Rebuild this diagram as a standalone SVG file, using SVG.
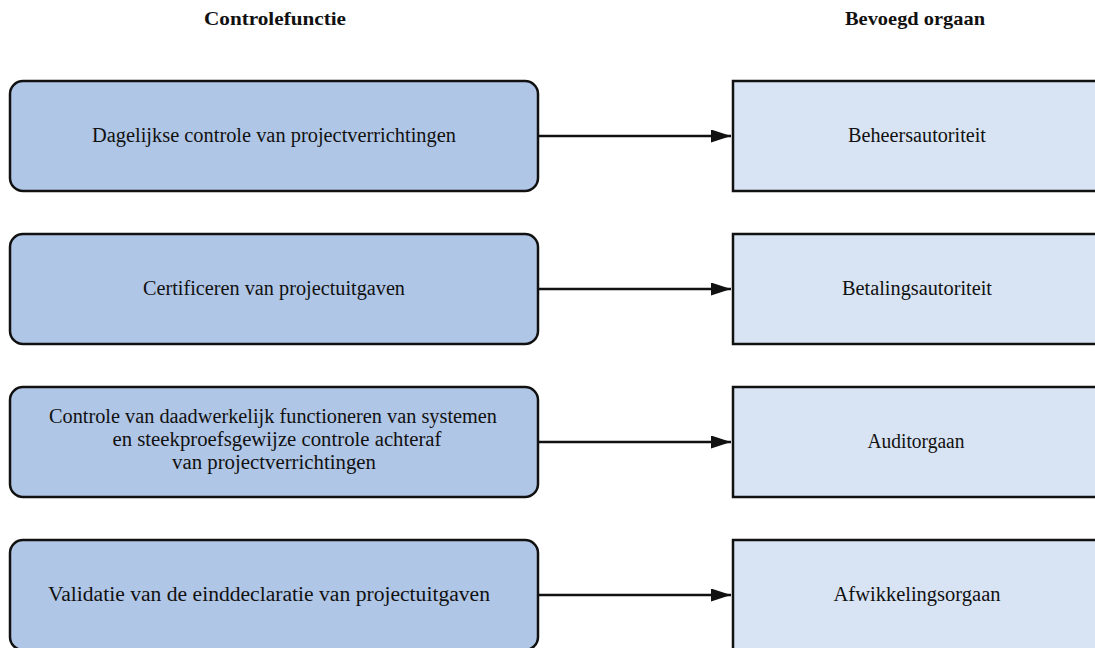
<svg xmlns="http://www.w3.org/2000/svg" width="1095" height="648" viewBox="0 0 1095 648">
<style>
.hdr{font-family:"Liberation Serif",serif;font-weight:bold;font-size:19px;fill:#111;text-anchor:middle}
.t{font-family:"Liberation Serif",serif;font-size:20px;fill:#111;text-anchor:middle}
.l{fill:#B0C6E6;stroke:#111;stroke-width:2.5}
.r{fill:#D8E4F3;stroke:#111;stroke-width:2.5}
.c{stroke:#111;stroke-width:2.5;fill:none}
</style>
<defs>
<marker id="ah" markerWidth="20" markerHeight="13" refX="20" refY="6.5" orient="auto" markerUnits="userSpaceOnUse" viewBox="0 0 20 13">
<path d="M0,0 L20,6.5 L0,13 Z" fill="#111"/>
</marker>
</defs>
<rect width="1095" height="648" fill="#fff"/>
<text class="hdr" x="275" y="25" textLength="142" lengthAdjust="spacingAndGlyphs">Controlefunctie</text>
<text class="hdr" x="915" y="25" textLength="140" lengthAdjust="spacingAndGlyphs">Bevoegd orgaan</text>
<g id="left1"><rect class="l" x="10" y="81" width="528" height="110" rx="13"/><text class="t" x="274" y="142" textLength="364" lengthAdjust="spacingAndGlyphs">Dagelijkse controle van projectverrichtingen</text></g>
<g id="left2"><rect class="l" x="10" y="234" width="528" height="110" rx="13"/><text class="t" x="274" y="295" textLength="262" lengthAdjust="spacingAndGlyphs">Certificeren van projectuitgaven</text></g>
<g id="left3"><rect class="l" x="10" y="387" width="528" height="110" rx="13"/><text class="t" x="273" y="423" textLength="448" lengthAdjust="spacingAndGlyphs">Controle van daadwerkelijk functioneren van systemen</text><text class="t" x="277" y="446" textLength="329" lengthAdjust="spacingAndGlyphs">en steekproefsgewijze controle achteraf</text><text class="t" x="274" y="469" textLength="204" lengthAdjust="spacingAndGlyphs">van projectverrichtingen</text></g>
<g id="left4"><rect class="l" x="10" y="540" width="528" height="110" rx="13"/><text class="t" x="269" y="601" textLength="442" lengthAdjust="spacingAndGlyphs">Validatie van de einddeclaratie van projectuitgaven</text></g>
<g id="right1"><rect class="r" x="733" y="81" width="366" height="110"/><text class="t" x="917" y="142" textLength="138" lengthAdjust="spacingAndGlyphs">Beheersautoriteit</text></g>
<g id="right2"><rect class="r" x="733" y="234" width="366" height="110"/><text class="t" x="917" y="295" textLength="150" lengthAdjust="spacingAndGlyphs">Betalingsautoriteit</text></g>
<g id="right3"><rect class="r" x="733" y="387" width="366" height="110"/><text class="t" x="916" y="448" textLength="97" lengthAdjust="spacingAndGlyphs">Auditorgaan</text></g>
<g id="right4"><rect class="r" x="733" y="540" width="366" height="110"/><text class="t" x="917" y="601" textLength="167" lengthAdjust="spacingAndGlyphs">Afwikkelingsorgaan</text></g>
<g id="connectors">
<line class="c" x1="538" y1="136" x2="731" y2="136" marker-end="url(#ah)"/>
<line class="c" x1="538" y1="289" x2="731" y2="289" marker-end="url(#ah)"/>
<line class="c" x1="538" y1="442" x2="731" y2="442" marker-end="url(#ah)"/>
<line class="c" x1="538" y1="595" x2="731" y2="595" marker-end="url(#ah)"/>
</g>
</svg>
